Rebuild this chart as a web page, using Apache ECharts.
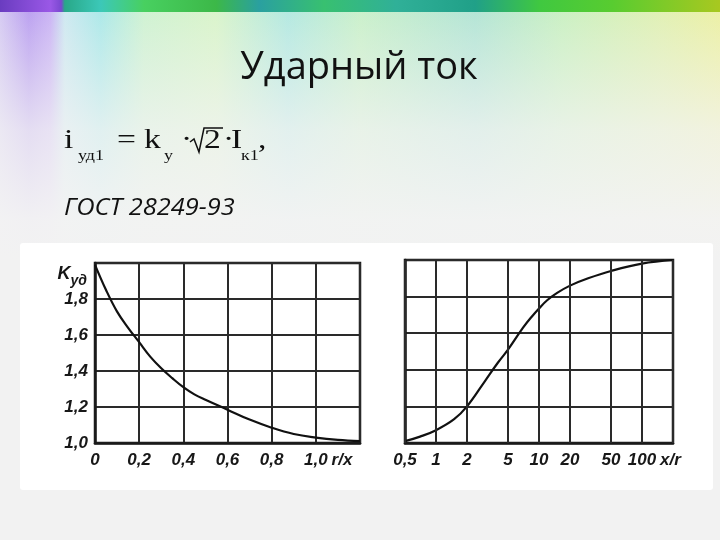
<!DOCTYPE html>
<html>
<head>
<meta charset="utf-8">
<script src="https://cdn.jsdelivr.net/npm/echarts@6/dist/echarts.min.js"></script>
<style>
html,body{margin:0;padding:0;width:720px;height:540px;overflow:hidden;}
#bg{position:absolute;left:0;top:0;width:720px;height:540px;
background:
 linear-gradient(to right,#6a3cc0 0%,#9a58e6 7%,#7a48d0 8.5%,#28a888 9%,#3cc8b8 14%,#48d060 20%,#3cb848 30%,#2aa0a0 36%,#38c070 45%,#30b098 55%,#20a088 66%,#40c840 75%,#58cc30 85%,#a8c820 100%) top/100% 12px no-repeat,
 linear-gradient(to bottom,rgba(243,243,243,0) 0px,rgba(243,243,243,0.25) 40px,rgba(243,243,243,0.75) 130px,rgba(243,243,243,0.97) 220px,#f2f2f2 260px),
 linear-gradient(to right,#d4c8f2 0%,#b89cf0 4%,#c8b0f4 7%,#cce8f0 9%,#a8e8e8 14%,#cdf2d0 20%,#d8f4c8 30%,#b0e8e0 40%,#c8f0c8 50%,#b0e4d4 66%,#c8f0c0 78%,#e0f0b0 92%,#ecf0a0 100%);
}
#chart{position:absolute;left:0;top:0;width:720px;height:540px;}
</style>
</head>
<body>
<div id="bg"></div>
<div id="chart"></div>
<script>
// Left chart: K_уд vs r/x
const leftRX = [0, 0.05, 0.1, 0.15, 0.2, 0.25, 0.3, 0.35, 0.4, 0.45, 0.5, 0.6, 0.7, 0.8, 0.9, 1.0, 1.1, 1.2];
const leftK  = [1.99, 1.85, 1.73, 1.64, 1.56, 1.48, 1.415, 1.36, 1.31, 1.27, 1.24, 1.185, 1.13, 1.085, 1.05, 1.03, 1.017, 1.01];
// Right chart: K_уд vs x/r (log scale)
const rightXR = [0.5, 0.7, 1, 1.5, 2, 3, 4, 5, 7, 8.5, 10, 12, 15, 20, 30, 50, 100, 200];
const rightK  = [1.01, 1.035, 1.07, 1.13, 1.20, 1.34, 1.44, 1.51, 1.63, 1.69, 1.735, 1.78, 1.82, 1.86, 1.90, 1.94, 1.98, 2.0];
// Tick labels
const rightTicks = [0.5, 1, 2, 5, 10, 20, 50, 100];
const rightGridX = [0.5, 1, 2, 5, 10, 20, 50, 100, 200];

const ink = '#1a1a1a';
const gridInk = '#2a2a2a';
const labelFont = {fontFamily:'Liberation Sans, Arial, sans-serif', fontStyle:'italic', fontWeight:'bold', fontSize:17, color:'#181818'};
const comma = v => (Math.round(v*10)/10).toFixed(1).replace('.', ',');

const chart = echarts.init(document.getElementById('chart'), null, {renderer:'canvas'});

const serif = 'Liberation Serif, DejaVu Serif, serif';
function t(x, y, text, size){
  return {type:'text', x:x, y:y, scaleX:1.2, style:{text:text, font: size+'px '+serif, fill:'#111', verticalAlign:'middle', align:'left'}};
}

chart.setOption({
  animation:false,
  graphic:[
    {type:'rect', shape:{x:20, y:243, width:693, height:247, r:3}, style:{fill:'#ffffff'}, z:-10},
    {type:'text', x:359, y:68, style:{text:'Ударный ток', font:'38px "Open Sans", sans-serif', fill:'#111', align:'center', verticalAlign:'middle'}},
    t(64, 141, 'i', 28),
    t(78, 156, 'уд1', 15),
    t(117, 141, '=', 28),
    t(144, 141, 'k', 28),
    t(164, 156, 'у', 15),
    t(181, 141, '·', 28),
    {type:'polyline', shape:{points:[[190,142],[194,139],[199,152],[204,128],[223,128]]}, style:{stroke:'#111', lineWidth:1.5, fill:null}},
    t(204, 141, '2', 28),
    t(223, 141, '·', 28),
    t(231, 141, 'I', 28),
    t(241, 156, 'к1', 15),
    t(258, 141, ',', 28),
    {type:'text', x:64, y:208, scaleX:1.06, style:{text:'ГОСТ 28249-93', font:'italic 24px "Open Sans", sans-serif', fill:'#111', align:'left', verticalAlign:'middle'}}
  ],
  grid:[
    {left:95, right:360, top:263, bottom:97, show:true, borderColor:ink, borderWidth:2.5, backgroundColor:'#fff'},
    {left:405, right:47, top:260, bottom:97, show:true, borderColor:ink, borderWidth:2.5, backgroundColor:'#fff'}
  ],
  xAxis:[
    {gridIndex:0, type:'value', min:0, max:1.2, interval:0.2,
     axisLine:{show:true, lineStyle:{color:ink, width:2.5}}, axisTick:{show:false},
     splitLine:{show:true, lineStyle:{color:gridInk, width:2}},
     axisLabel:Object.assign({margin:9, formatter: v => v > 1.1 ? '' : (v === 0 ? '0' : comma(v))}, labelFont),
     name:'r/x', nameLocation:'end', nameGap:-34,
     nameTextStyle:Object.assign({align:'left', verticalAlign:'top', padding:[9,0,0,0]}, labelFont)},
    {gridIndex:1, type:'log', logBase:10, min:0.5, max:200,
     axisLine:{show:true, lineStyle:{color:ink, width:2.5}},
     axisTick:{show:false, customValues:rightGridX},
     splitLine:{show:false},
     axisLabel:Object.assign({margin:9, customValues:rightTicks, formatter: v => String(v).replace('.', ',')}, labelFont),
     name:'x/r', nameLocation:'end', nameGap:-24,
     nameTextStyle:Object.assign({align:'left', verticalAlign:'top', padding:[9,0,0,0]}, labelFont)}
  ],
  yAxis:[
    {gridIndex:0, type:'value', min:1.0, max:2.0, interval:0.2,
     axisLine:{show:true, lineStyle:{color:ink, width:2.5}}, axisTick:{show:false},
     splitLine:{show:true, lineStyle:{color:gridInk, width:2}},
     axisLabel:Object.assign({margin:7, formatter: v => v > 1.9 ? '' : comma(v)}, labelFont),
     name:'{k|K}{s|уд}', nameLocation:'end', nameGap:-2,
     nameTextStyle:{align:'right', verticalAlign:'top', padding:[0,8,0,0],
       rich:{k:{fontFamily:'Liberation Sans, sans-serif', fontStyle:'italic', fontWeight:'bold', fontSize:18, color:'#151515', padding:[0,0,6,0]},
             s:{fontFamily:'Liberation Sans, sans-serif', fontStyle:'italic', fontWeight:'bold', fontSize:14, color:'#151515', padding:[8,0,0,0]}}}},
    {gridIndex:1, type:'value', min:1.0, max:2.0, interval:0.2,
     axisLine:{show:true, lineStyle:{color:ink, width:2.5}}, axisTick:{show:false},
     splitLine:{show:true, lineStyle:{color:gridInk, width:2}},
     axisLabel:{show:false}}
  ],
  series:[
    {type:'line', xAxisIndex:0, yAxisIndex:0, smooth:0.4, symbol:'none',
     lineStyle:{color:'#111', width:2.2},
     data: leftRX.map((x,i) => [x, leftK[i]])},
    {type:'line', xAxisIndex:1, yAxisIndex:1, smooth:0.4, symbol:'none',
     lineStyle:{color:'#111', width:2.2},
     data: rightXR.map((x,i) => [x, rightK[i]]),
     markLine:{silent:true, symbol:'none', label:{show:false},
       lineStyle:{color:gridInk, width:2, type:'solid'},
       data: rightGridX.map(v => ({xAxis:v}))}}
  ]
});
</script>
</body>
</html>
